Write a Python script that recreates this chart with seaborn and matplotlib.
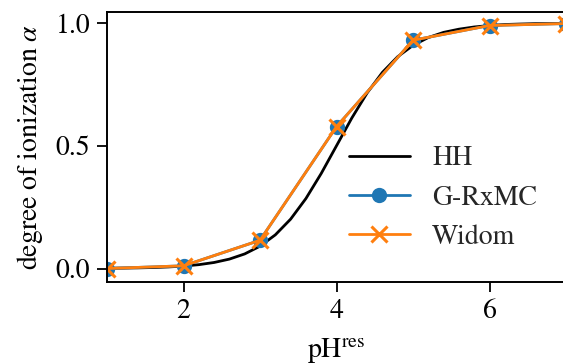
import numpy as np
import pandas as pd
import matplotlib
matplotlib.use("Agg")
import matplotlib.pyplot as plt
import seaborn as sns

# Henderson-Hasselbalch curve
ph_hh = [1.0, 1.2, 1.4, 1.6, 1.8, 2.0, 2.2, 2.4, 2.6, 2.8, 3.0, 3.2, 3.4, 3.6, 3.8,
         4.0, 4.2, 4.4, 4.6, 4.8, 5.0, 5.2, 5.4, 5.6, 5.8, 6.0, 6.2, 6.4, 6.6, 6.8, 7.0]
alpha_hh = [0.001, 0.0016, 0.0025, 0.004, 0.0063, 0.0099, 0.0156, 0.0245, 0.0383, 0.0594,
            0.0909, 0.137, 0.201, 0.285, 0.387, 0.5, 0.613, 0.715, 0.799, 0.863, 0.909,
            0.941, 0.962, 0.975, 0.984, 0.990, 0.994, 0.996, 0.9975, 0.998, 0.999]

ph_sim = [1, 2, 3, 4, 5, 6, 7]
alpha_grxmc = [0.0, 0.011, 0.115, 0.578, 0.93, 0.99, 0.998]
alpha_widom = [0.0, 0.011, 0.115, 0.578, 0.93, 0.99, 0.998]

x_ticks = [2, 4, 6]
y_ticks = [0.0, 0.5, 1.0]

sns.set_style("ticks")
plt.rcParams["font.family"] = ["STIXGeneral", "Liberation Serif", "DejaVu Serif"]
plt.rcParams["mathtext.fontset"] = "stix"
FS = 20

fig = plt.figure(figsize=(5.63, 3.64), dpi=100)
ax = fig.add_axes([107 / 563, 1 - 282 / 364, (566 - 107) / 563, (282 - 12) / 364])

sns.lineplot(x=ph_hh, y=alpha_hh, ax=ax, color="black", lw=2.0, label="HH")
sns.lineplot(x=ph_sim, y=alpha_grxmc, ax=ax, color="#1f77b4", lw=2.0, marker="o",
             markersize=11, markeredgewidth=0, label="G-RxMC")
sns.lineplot(x=ph_sim, y=alpha_widom, ax=ax, color="#ff7f0e", lw=2.0, marker="x",
             markersize=11, markeredgewidth=2.2, markeredgecolor="#ff7f0e", label="Widom")

ax.set_xlim(1, 7)
ax.set_ylim(-0.055, 1.045)
ax.set_xticks(x_ticks)
ax.set_yticks(y_ticks)
ax.set_yticklabels(["0.0", "0.5", "1.0"])
ax.tick_params(labelsize=FS, length=7, width=1.3, direction="out", colors="black", pad=5)
for s in ax.spines.values():
    s.set_linewidth(1.4)
    s.set_color("black")
ax.set_xlabel(r"pH$^{\mathrm{res}}$", fontsize=FS, color="black", labelpad=9)
ax.set_ylabel(r"degree of ionization $\alpha$", fontsize=FS, color="black", labelpad=8)
ax.legend(loc="center", frameon=False, fontsize=FS, bbox_to_anchor=(0.732, 0.311),
          handlelength=2.2, handletextpad=0.8, labelspacing=0.5)

fig.savefig("out.png", dpi=100)
